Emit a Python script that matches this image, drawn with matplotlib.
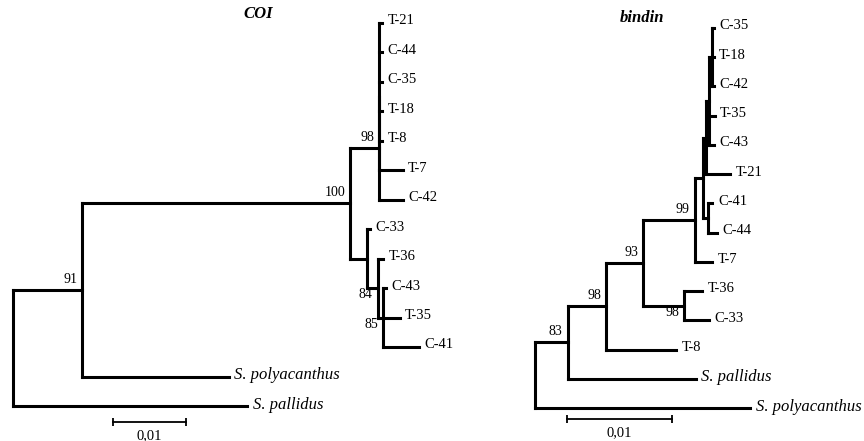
import matplotlib
matplotlib.use('Agg')
import matplotlib.pyplot as plt
from matplotlib.collections import LineCollection

# newick trees, branch lengths in substitutions/site, support after ')'
coi_newick = ("(((((T-21:0.0004,C-44:0.0004,C-35:0.0004,T-18:0.0004,T-8:0.0004,T-7:0.0032):0,"
              "C-42:0.0033)98:0.0040,(C-33:0.0004,(T-36:0.0007,(C-43:0.0004,T-35:0.0023,"
              "C-41:0.0049)85:0.0007)84:0.0015):0.0023)100:0.0367,S. polyacanthus:0.0201)91:0.0095,"
              "S. pallidus:0.0321);")
bindin_newick = ("(((((((((C-35:0.0001,T-18:0.0001,C-42:0.0001):0.0003,T-35:0.0005,C-43:0.0004):0.0003,"
                 "T-21:0.0023):0.0003,(C-41:0.0004,C-44:0.0008):0.0005):0.0008,T-7:0.0017)99:0.0049,"
                 "(T-36:0.0017,C-33:0.0024)98:0.0039)93:0.0035,T-8:0.0066)98:0.0037,"
                 "S. pallidus:0.0122)83:0.0031,S. polyacanthus:0.0205);")
titles = ['COI', 'bindin']
scale_len = 0.01
scale_text = '0,01'

W, H = 864, 441
plt.rcParams['font.family'] = ['Liberation Serif', 'DejaVu Serif']


def parse(s):
    pos = 0

    def node():
        nonlocal pos
        kids = []
        if s[pos] == '(':
            pos += 1
            while True:
                kids.append(node())
                if s[pos] == ',':
                    pos += 1
                    continue
                pos += 1
                break
        start = pos
        while s[pos] not in ':,();':
            pos += 1
        label = s[start:pos]
        length = 0.0
        if s[pos] == ':':
            pos += 1
            start = pos
            while s[pos] not in ',();':
                pos += 1
            length = float(s[start:pos])
        return {'label': label, 'len': length, 'kids': kids}
    return node()


def layout(n, x=0.0, counter=[0]):
    n['x'] = x + n['len']
    if not n['kids']:
        n['y'] = counter[0]
        counter[0] += 1
    else:
        for k in n['kids']:
            layout(k, n['x'], counter)
        n['y'] = (n['kids'][0]['y'] + n['kids'][-1]['y']) / 2


def draw_tree(ax, root):
    segs = []

    def walk(n, last=False):
        if n['kids']:
            segs.append([(n['x'], n['kids'][0]['y']), (n['x'], n['kids'][-1]['y'])])
            for i, k in enumerate(n['kids']):
                segs.append([(n['x'], k['y']), (k['x'], k['y'])])
                walk(k, i == len(n['kids']) - 1)
            if n['label']:
                # lower child: support under the branch, otherwise above it
                if last:
                    ax.annotate(n['label'], (n['x'], n['y']), xytext=(-3.5, 0),
                                textcoords='offset points', ha='right', va='top', fontsize=10)
                else:
                    ax.annotate(n['label'], (n['x'], n['y']), xytext=(-3.5, 3),
                                textcoords='offset points', ha='right', va='bottom', fontsize=10)
        else:
            if n['label'].startswith('S.'):
                ax.annotate(n['label'], (n['x'], n['y']), xytext=(4, 1),
                            textcoords='offset points', ha='left', va='center',
                            fontsize=12, style='italic')
            else:
                ax.annotate(n['label'], (n['x'], n['y']), xytext=(4, 1.5),
                            textcoords='offset points', ha='left', va='center', fontsize=10.5)
    walk(root)
    lc = LineCollection(segs, colors='black', linewidths=2.2, capstyle='projecting')
    ax.add_collection(lc)


fig = plt.figure(figsize=(W / 100, H / 100), dpi=100)

# pixel placement of each tree: root x, px per unit, first leaf y, leaf step,
# scale bar start x / y, title x / y
places = [(12.7, 7300, 23, 29.46, 113, 422, 258, 14),
          (535, 10500, 28, 29.23, 567, 419, 642, 18)]

for nwk, title, pl in zip([coi_newick, bindin_newick], titles, places):
    rx, ppu, top, step, sbx, sby, tx, ty = pl
    tree = parse(nwk)
    layout(tree, 0.0, [0])
    ax = fig.add_axes([0, 0, 1, 1])
    ax.patch.set_alpha(0)
    ax.set_xlim(-rx / ppu, (W - rx) / ppu)
    ax.set_ylim((H - top) / step, -top / step)
    ax.axis('off')
    draw_tree(ax, tree)
    # scale bar
    x0 = (sbx - rx) / ppu
    yb = (sby - top) / step
    ax.plot([x0, x0 + scale_len], [yb, yb], color='black', lw=1.3)
    ax.plot([x0, x0 + scale_len], [yb, yb], ls='none', marker='|', ms=6, mew=1.3, color='black')
    ax.annotate(scale_text, (x0 + scale_len / 2, yb), xytext=(0, -5),
                textcoords='offset points', ha='center', va='top', fontsize=10.5)
    fig.text(tx / W, 1 - ty / H, title, ha='center', va='center',
             fontsize=12, fontweight='bold', style='italic')

fig.savefig('out.png', dpi=100)
